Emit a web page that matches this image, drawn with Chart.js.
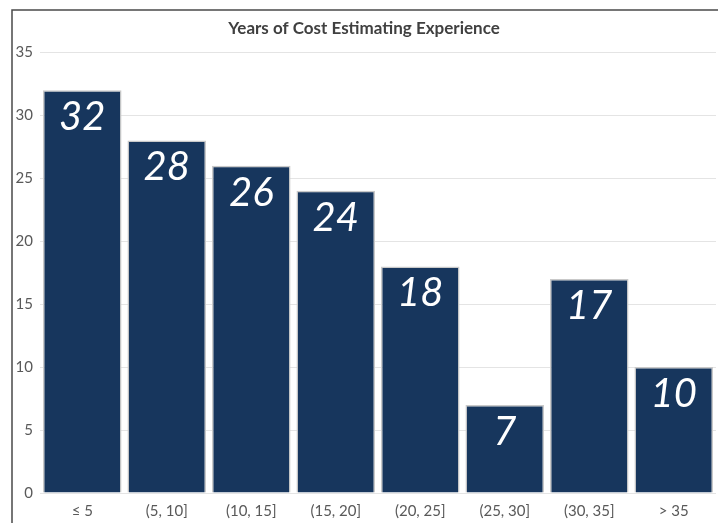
<!DOCTYPE html>
<html>
<head>
<meta charset="utf-8">
<title>Years of Cost Estimating Experience</title>
<script src="https://cdn.jsdelivr.net/npm/chart.js@4"></script>
<style>
  html, body { margin: 0; padding: 0; background: #ffffff; }
  #wrap { width: 718px; height: 523px; }
</style>
</head>
<body>
<div id="wrap"><canvas id="myChart" width="718" height="523"></canvas></div>
<script>
// experience buckets (years) and number of respondents in each
const categories = ['≤ 5', '(5, 10]', '(10, 15]', '(15, 20]', '(20, 25]', '(25, 30]', '(30, 35]', '> 35'];
const counts = [32, 28, 26, 24, 18, 7, 17, 10];
const yTicks = [0, 5, 10, 15, 20, 25, 30, 35];

const navy = '#17365d';
const textGrey = '#595959';
const fontFamily = 'Lato, "Open Sans", sans-serif';

// dark frame along the top and left edge of the chart area
const framePlugin = {
    id: 'frame',
    beforeDraw(chart) {
        const ctx = chart.ctx;
        ctx.save();
        ctx.strokeStyle = '#4a4a4a';
        ctx.lineWidth = 1.5;
        ctx.beginPath();
        ctx.moveTo(12, chart.height);
        ctx.lineTo(12, 10);
        ctx.lineTo(chart.width, 10);
        ctx.stroke();
        ctx.restore();
    }
};

// big italic value written inside the top of every bar
const valueLabels = {
    id: 'valueLabels',
    afterDatasetsDraw(chart) {
        const ctx = chart.ctx;
        const meta = chart.getDatasetMeta(0);
        ctx.save();
        ctx.fillStyle = '#ffffff';
        ctx.font = 'italic 40px ' + fontFamily;
        ctx.textAlign = 'center';
        ctx.textBaseline = 'middle';
        meta.data.forEach((bar, i) => {
            ctx.fillText(String(counts[i]), bar.x, bar.y + 27);
        });
        ctx.restore();
    }
};

function generateChart() {
    const ctx = document.getElementById('myChart').getContext('2d');
    return new Chart(ctx, {
        type: 'bar',
        data: {
            labels: categories,
            datasets: [{
                label: 'Years of Cost Estimating Experience',
                data: counts,
                backgroundColor: navy,
                borderColor: '#c9c9c9',
                borderWidth: 1.5,
                barPercentage: 0.93,
                categoryPercentage: 1.0
            }]
        },
        options: {
            responsive: false,
            animation: false,
            layout: { padding: { left: 12, right: 2, top: 10, bottom: 0 } },
            plugins: {
                legend: { display: false },
                tooltip: { enabled: false },
                title: {
                    display: true,
                    text: 'Years of Cost Estimating Experience',
                    color: '#404040',
                    font: { family: fontFamily, size: 17, weight: 'bold' },
                    padding: { top: 8, bottom: 14 }
                }
            },
            scales: {
                x: {
                    grid: { display: false },
                    border: { display: false },
                    ticks: {
                        color: textGrey,
                        font: { family: fontFamily, size: 15 },
                        padding: 1,
                        maxRotation: 0
                    },
                    afterFit(scale) { scale.height = 30; }
                },
                y: {
                    min: 0,
                    max: 35,
                    afterBuildTicks(scale) {
                        scale.ticks = yTicks.map(v => ({ value: v }));
                    },
                    grid: { color: '#e4e4e4', lineWidth: 1, drawTicks: false },
                    border: { display: false },
                    ticks: {
                        color: textGrey,
                        font: { family: fontFamily, size: 15 },
                        padding: 7
                    },
                    afterFit(scale) { scale.width = 28; }
                }
            }
        },
        plugins: [framePlugin, valueLabels]
    });
}

generateChart();
</script>
</body>
</html>
